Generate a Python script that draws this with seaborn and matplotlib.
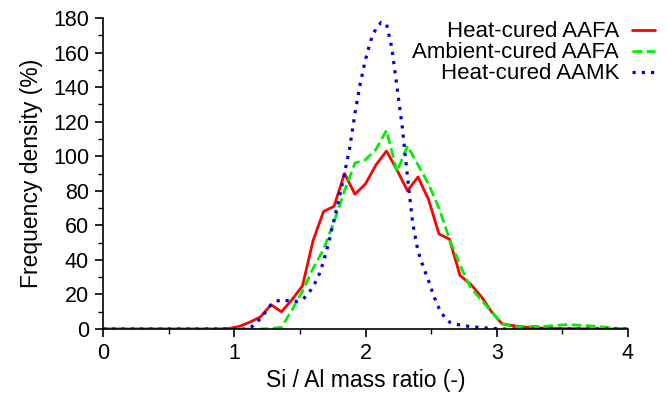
import numpy as np
import pandas as pd
import matplotlib
matplotlib.use("Agg")
import matplotlib.pyplot as plt
import seaborn as sns
from matplotlib.ticker import MultipleLocator

# ===================== Daten =====================

# AAFA curves on a 0.08 grid (Si/Al 0 .. 4)
x_aafa = np.round(np.arange(0, 51) * 0.08, 2)

heat_aafa = [0, 0, 0, 0, 0, 0, 0, 0, 0, 0, 0, 0, 0.3,
             1.5, 4, 7, 14, 10, 17, 25, 51, 68, 71, 90, 78, 84, 95, 103,
             92, 80, 88, 75, 55, 52, 31, 26, 19, 10, 3, 2, 1.2, 0.8, 0.5,
             0.3, 0.2, 0.2, 0.1, 0.1, 0, 0, 0]

ambient_aafa = [0, 0, 0, 0, 0, 0, 0, 0, 0, 0, 0, 0, 0, 0, 0, 0, 0.3,
                1, 11, 22, 35, 46, 62, 80, 96, 98, 104, 115,
                91, 106, 95, 84, 70, 52, 37, 24, 17, 10, 3, 1.5, 1.2, 1.5,
                1.5, 2, 2.5, 2.3, 2, 1.5, 1, 0.3, 0]

# AAMK curve, finer 0.04 grid
x_aamk = np.round(np.arange(0, 101) * 0.04, 2)
heat_aamk = ([0] * 28 +
             [0.5, 3, 6, 10, 14, 16, 17, 16.5, 16, 16, 17, 20, 24.5, 30, 39,
              50, 63, 76, 90, 105, 125, 142, 156, 167, 174, 177.5, 176.5,
              163, 140, 117, 88, 61, 45, 36, 28, 19, 12, 7, 4, 3, 2.3, 1.8,
              1.4, 1.1, 0.8, 0.6, 0.4, 0.2] +
             [0] * 25)

labels = ["Heat-cured AAFA", "Ambient-cured AAFA", "Heat-cured AAMK"]
colors = ["#ff0000", "#00ee00", "#0000ee"]

# ===================== Plot =====================

sns.set_theme(style="ticks")
plt.rcParams["font.family"] = ["Liberation Sans", "DejaVu Sans"]

fig = plt.figure(figsize=(6.66, 3.96), dpi=100)
ax = fig.add_axes([103 / 666, 1 - 329 / 396, 525 / 666, 311 / 396])

sns.lineplot(x=x_aafa, y=heat_aafa, ax=ax, color=colors[0], lw=2.0,
             label=labels[0], estimator=None, sort=False)
sns.lineplot(x=x_aafa, y=ambient_aafa, ax=ax, color=colors[1], lw=2.0,
             linestyle=(0, (3.5, 1.6)), label=labels[1], estimator=None, sort=False)
sns.lineplot(x=x_aamk, y=heat_aamk, ax=ax, color=colors[2], lw=2.3,
             linestyle=(0, (1, 1.9)), label=labels[2], estimator=None, sort=False)

ax.set_xlim(0, 4)
ax.set_ylim(0, 180)
ax.xaxis.set_major_locator(MultipleLocator(1))
ax.xaxis.set_minor_locator(MultipleLocator(0.5))
ax.yaxis.set_major_locator(MultipleLocator(20))
ax.yaxis.set_minor_locator(MultipleLocator(10))

sns.despine(ax=ax)
for s in ["left", "bottom"]:
    ax.spines[s].set_color("black")
    ax.spines[s].set_linewidth(1.2)
ax.tick_params(which="major", direction="out", length=6, width=1.2,
               color="black", labelsize=15.5, labelcolor="black", pad=4)
ax.tick_params(which="minor", direction="out", length=3.5, width=1.0,
               color="black")

ax.set_xlabel("Si / Al mass ratio (-)", fontsize=16.5, color="black", labelpad=4)
ax.set_ylabel("Frequency density (%)", fontsize=16.5, color="black", labelpad=7)

leg = ax.legend(loc="upper right", bbox_to_anchor=(0.983, 0.946),
                bbox_transform=fig.transFigure, frameon=False,
                markerfirst=False, fontsize=16, handlelength=1.0,
                handletextpad=0.6, labelspacing=0.0, borderpad=0,
                borderaxespad=0)
for t in leg.get_texts():
    t.set_color("black")

fig.savefig("out.png", dpi=100)
